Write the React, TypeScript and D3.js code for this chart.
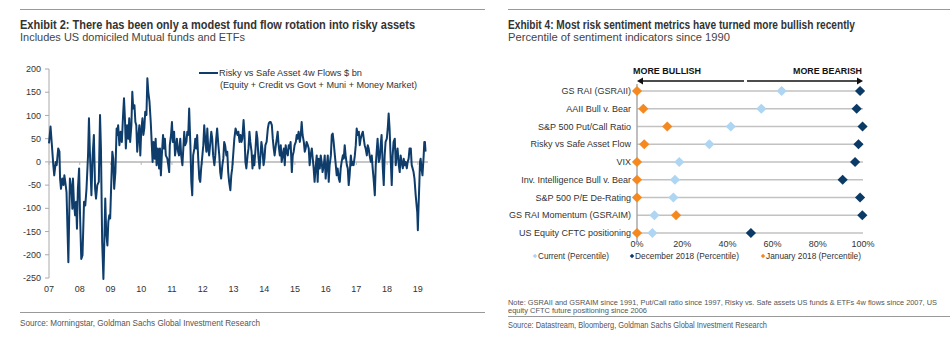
import React from "react";
import * as d3 from "d3";

// ---------- Exhibit 2 data: Risky vs Safe Asset 4w Flows ($ bn) ----------
const flowDates = [
  2007.00,2007.05,2007.09,2007.14,2007.17,2007.22,2007.25,2007.30,2007.34,2007.36,
  2007.39,2007.43,2007.47,2007.50,2007.53,2007.57,2007.63,2007.68,2007.73,2007.76,
  2007.78,2007.81,2007.85,2007.88,2007.91,2007.94,2007.98,2008.01,2008.05,2008.09,
  2008.14,2008.18,2008.22,2008.27,2008.30,2008.33,2008.38,2008.42,2008.46,2008.50,
  2008.53,2008.57,2008.62,2008.66,2008.69,2008.73,2008.77,2008.80,2008.83,2008.86,
  2008.90,2008.93,2008.96,2008.99,2009.02,2009.06,2009.09,2009.12,2009.16,2009.20,
  2009.22,2009.25,2009.29,2009.33,2009.37,2009.41,2009.44,2009.47,2009.50,2009.54,
  2009.58,2009.61,2009.64,2009.68,2009.71,2009.74,2009.78,2009.81,2009.84,2009.87,
  2009.91,2009.94,2009.97,2010.00,2010.04,2010.07,2010.10,2010.13,2010.17,2010.20,
  2010.23,2010.27,2010.31,2010.34,2010.37,2010.40,2010.44,2010.47,2010.50,2010.54,
  2010.58,2010.61,2010.64,2010.67,2010.71,2010.74,2010.77,2010.80,2010.85,2010.88,
  2010.91,2010.93,2010.97,2011.00,2011.03,2011.07,2011.10,2011.13,2011.16,2011.20,
  2011.23,2011.27,2011.30,2011.34,2011.37,2011.40,2011.43,2011.47,2011.50,2011.53,
  2011.56,2011.60,2011.63,2011.66,2011.69,2011.73,2011.76,2011.79,2011.82,2011.86,
  2011.89,2011.92,2011.95,2011.99,2012.02,2012.05,2012.08,2012.12,2012.15,2012.18,
  2012.21,2012.25,2012.28,2012.31,2012.34,2012.38,2012.41,2012.44,2012.47,2012.51,
  2012.54,2012.57,2012.60,2012.64,2012.67,2012.70,2012.73,2012.77,2012.80,2012.83,
  2012.86,2012.90,2012.93,2012.96,
  2013.00,2013.03,2013.07,2013.10,2013.13,2013.16,2013.20,2013.23,2013.26,2013.29,
  2013.33,2013.36,2013.39,2013.42,2013.46,2013.49,2013.52,2013.55,2013.59,2013.62,
  2013.65,2013.68,2013.72,2013.75,2013.78,2013.81,2013.85,2013.88,2013.91,2013.94,
  2013.98,2014.01,2014.04,2014.08,2014.12,2014.15,2014.18,2014.21,2014.25,2014.28,
  2014.31,2014.34,2014.38,2014.41,2014.44,2014.47,2014.51,2014.54,2014.57,2014.60,
  2014.64,2014.67,2014.70,2014.73,2014.77,2014.80,2014.83,2014.86,2014.90,2014.93,
  2014.96,2014.99,2015.03,2015.06,2015.09,2015.12,2015.16,2015.19,2015.22,2015.25,
  2015.29,2015.32,2015.35,2015.38,2015.42,2015.45,2015.48,2015.51,2015.55,2015.58,
  2015.61,2015.64,2015.68,2015.71,2015.74,2015.77,2015.81,2015.84,2015.87,2015.90,
  2015.94,2015.97,2016.00,2016.04,2016.07,2016.10,2016.13,2016.17,2016.20,2016.23,
  2016.26,2016.30,2016.33,2016.36,2016.39,2016.43,2016.46,2016.49,2016.52,2016.56,
  2016.59,2016.62,2016.65,2016.69,2016.72,2016.75,2016.78,2016.82,2016.85,2016.88,
  2016.91,2016.95,2016.98,2017.01,2017.04,2017.08,2017.11,2017.14,2017.17,2017.21,
  2017.24,2017.27,2017.30,2017.34,2017.37,2017.40,2017.43,2017.47,2017.50,2017.53,
  2017.56,2017.60,2017.63,2017.66,2017.69,2017.73,2017.76,2017.79,2017.82,2017.86,
  2017.89,2017.92,2017.95,2017.99,2018.02,2018.05,2018.08,2018.12,2018.15,2018.18,
  2018.21,2018.25,2018.28,2018.31,2018.34,2018.38,2018.41,2018.44,2018.47,2018.51,
  2018.54,2018.57,2018.60,2018.64,2018.67,2018.70,2018.73,2018.77,2018.80,2018.83,
  2018.86,2018.89,2018.93,2018.96,2018.98,2019.00,2019.02,2019.05,2019.07,2019.09,
  2019.12,2019.15,2019.19,2019.21,2019.23,2019.25,
];
const flowValues = [
  40,76,40,-7,-29,0,-7,29,22,-36,
  -58,-36,-50,-29,-43,-65,-216,-36,-58,-101,
  -36,-86,-115,-86,-144,-58,-14,-115,-209,-201,
  -86,-94,-58,14,94,22,-72,14,58,-58,
  -79,-50,-43,101,29,-173,-252,-173,-79,-151,
  -180,-129,-115,-122,-58,22,7,-58,-22,72,
  58,79,36,65,43,101,137,94,29,79,
  50,94,43,79,151,115,122,86,79,22,
  58,79,14,65,94,58,72,108,101,180,
  151,129,86,43,0,43,7,50,-7,29,
  -14,29,-29,14,58,29,50,14,7,-7,
  -22,36,58,86,43,65,14,29,50,22,
  14,50,14,-7,29,65,36,43,65,58,
  115,36,-43,-72,14,29,50,29,58,0,
  -36,-43,-14,14,36,79,50,22,72,29,
  14,43,65,50,14,-7,14,50,72,36,
  14,-22,-36,-7,7,43,36,14,22,-22,
  -43,-61,-29,-14,
  22,50,72,65,58,65,43,58,43,50,
  90,58,0,-14,14,29,65,43,22,-14,
  14,-7,29,65,50,14,-14,14,43,29,
  -7,7,36,43,72,83,86,86,79,50,
  29,14,36,50,65,36,14,36,0,14,
  29,-7,36,22,14,36,29,43,-22,14,
  22,36,43,58,50,65,43,58,86,58,
  43,22,29,43,36,29,-7,14,29,7,
  -14,-43,-7,14,-43,7,-14,14,0,-22,
  -7,14,-36,-7,14,-43,-7,14,58,61,
  43,14,-7,-29,-14,-36,-43,-14,0,14,
  7,36,14,-7,-14,-50,-29,14,-7,0,
  -7,14,36,72,58,65,36,50,58,65,
  50,36,29,14,36,29,14,0,14,-14,
  -36,-72,-7,22,50,0,7,36,58,-14,
  -50,14,43,50,72,104,72,0,-50,14,
  43,50,-7,14,29,-7,-22,14,0,-14,
  7,-7,0,-14,0,7,29,29,-7,-14,
  -22,-36,-72,-94,-108,-147,-101,-43,0,7,
  -14,-29,14,43,43,22,
];
const flowYTicks = [200, 150, 100, 50, 0, -50, -100, -150, -200, -250];
const flowYears = [2007, 2008, 2009, 2010, 2011, 2012, 2013, 2014, 2015, 2016, 2017, 2018, 2019];
const flowYearLabels = ["07", "08", "09", "10", "11", "12", "13", "14", "15", "16", "17", "18", "19"];

// ---------- Exhibit 4 data: sentiment percentiles ----------
const indicators = [
  "GS RAI (GSRAII)",
  "AAII Bull v. Bear",
  "S&P 500 Put/Call Ratio",
  "Risky vs Safe Asset Flow",
  "VIX",
  "Inv. Intelligence Bull v. Bear",
  "S&P 500 P/E De-Rating",
  "GS RAI Momentum (GSRAIM)",
  "US Equity CFTC positioning",
];
const currentPct = [0.64, 0.55, 0.415, 0.32, 0.187, 0.168, 0.161, 0.077, 0.068];
const dec2018Pct = [0.987, 0.972, 0.998, 0.98, 0.965, 0.91, 0.987, 0.997, 0.504];
const jan2018Pct = [0, 0.028, 0.134, 0.032, 0, 0, 0, 0.173, 0];
const pctTicks = [0, 0.2, 0.4, 0.6, 0.8, 1];

const NARROW = "'Liberation Sans Narrow','Arial Narrow','Liberation Sans',Arial,sans-serif";
const SANS = "'Liberation Sans',Arial,Helvetica,sans-serif";
const NAVY = "#0E3D6C";
const DARK = "#0B3A67";
const LIGHT = "#AED6F3";
const ORANGE = "#F5891F";

function diamond(size: number) {
  return d3.symbol().type(d3.symbolSquare).size(size)() as string;
}

export default function App() {
  // left chart scales
  const x = d3.scaleLinear().domain([2007, 2019.33]).range([49, 428]);
  const y = d3.scaleLinear().domain([-250, 200]).range([278, 69]);
  const line = d3
    .line<number>()
    .x((_, i) => x(flowDates[i]))
    .y((d) => y(d))
    .curve(d3.curveLinear);

  // right chart scales
  const px = d3.scaleLinear().domain([0, 1]).range([637, 863]);
  const py = d3.scalePoint<string>().domain(indicators).range([91, 233]);
  const dPath = diamond(52);
  const dSmall = diamond(10);

  return (
    <svg
      width={950}
      height={339}
      style={{ position: "absolute", left: 0, top: 0, background: "#fff" }}
    >
      {/* ===== Left panel ===== */}
      <line x1={20} x2={485} y1={9.5} y2={9.5} stroke="#999" strokeWidth={1} />
      <text x={20} y={29} fontFamily={NARROW} fontWeight="bold" fontSize={12} fill="#333"
        textLength={395} lengthAdjust="spacingAndGlyphs">
        Exhibit 2: There has been only a modest fund flow rotation into risky assets
      </text>
      <text x={20} y={41} fontFamily={NARROW} fontSize={11} fill="#444"
        textLength={225} lengthAdjust="spacingAndGlyphs">
        Includes US domiciled Mutual funds and ETFs
      </text>

      {/* y axis */}
      <line x1={49} x2={49} y1={y(200)} y2={y(-250)} stroke="#aaa" strokeWidth={1} />
      {flowYTicks.map((t) => (
        <g key={t}>
          <line x1={45} x2={49} y1={y(t)} y2={y(t)} stroke="#aaa" />
          <text x={41} y={y(t)} dy="0.35em" textAnchor="end" fontFamily={SANS} fontSize={9} fill="#333">
            {t}
          </text>
        </g>
      ))}
      {/* zero line */}
      <line x1={49} x2={428} y1={y(0)} y2={y(0)} stroke="#b5b5b5" strokeWidth={1.5} />
      {flowYears.map((yr, i) => (
        <g key={yr}>
          <line x1={x(yr)} x2={x(yr)} y1={y(0)} y2={y(0) + 3} stroke="#b5b5b5" />
          <text x={x(yr)} y={292} textAnchor="middle" fontFamily={SANS} fontSize={9} fill="#333">
            {flowYearLabels[i]}
          </text>
        </g>
      ))}
      <path d={line(flowValues) as string} fill="none" stroke={NAVY} strokeWidth={2} strokeLinejoin="round" />

      {/* legend */}
      <line x1={199} x2={218} y1={73} y2={73} stroke={NAVY} strokeWidth={2} />
      <text x={219} y={76} fontFamily={SANS} fontSize={9} fill="#333" textLength={143} lengthAdjust="spacingAndGlyphs">
        Risky vs Safe Asset 4w Flows $ bn
      </text>
      <text x={220} y={87.5} fontFamily={SANS} fontSize={9} fill="#333" textLength={197} lengthAdjust="spacingAndGlyphs">
        (Equity + Credit vs Govt + Muni + Money Market)
      </text>

      <line x1={20} x2={485} y1={312.5} y2={312.5} stroke="#999" strokeWidth={1} />
      <text x={20} y={326} fontFamily={NARROW} fontSize={9} fill="#555" textLength={240} lengthAdjust="spacingAndGlyphs">
        Source: Morningstar, Goldman Sachs Global Investment Research
      </text>

      {/* ===== Right panel ===== */}
      <line x1={508} x2={950} y1={9.5} y2={9.5} stroke="#999" strokeWidth={1} />
      <text x={508} y={29} fontFamily={NARROW} fontWeight="bold" fontSize={12} fill="#333"
        textLength={347} lengthAdjust="spacingAndGlyphs">
        Exhibit 4: Most risk sentiment metrics have turned more bullish recently
      </text>
      <text x={508} y={41} fontFamily={NARROW} fontSize={11} fill="#444"
        textLength={222} lengthAdjust="spacingAndGlyphs">
        Percentile of sentiment indicators since 1990
      </text>

      {/* direction arrows */}
      <text x={633} y={74} fontFamily={SANS} fontWeight="bold" fontSize={9} fill="#111"
        textLength={68} lengthAdjust="spacingAndGlyphs">
        MORE BULLISH
      </text>
      <text x={862} y={74} textAnchor="end" fontFamily={SANS} fontWeight="bold" fontSize={9} fill="#111"
        textLength={69} lengthAdjust="spacingAndGlyphs">
        MORE BEARISH
      </text>
      <line x1={642} x2={744} y1={81} y2={81} stroke="#111" strokeWidth={1.5} />
      <path d="M637,81 L643,77.5 L643,84.5 Z" fill="#111" />
      <line x1={747} x2={858} y1={81} y2={81} stroke="#111" strokeWidth={1.5} />
      <path d="M863,81 L857,77.5 L857,84.5 Z" fill="#111" />

      {/* grid rows */}
      {indicators.map((name) => (
        <g key={name}>
          <line x1={px(0)} x2={px(1)} y1={py(name)} y2={py(name)} stroke="#c2c2c2" strokeWidth={1.5} />
          <text x={631} y={py(name)} dy="0.35em" textAnchor="end" fontFamily={SANS} fontSize={9} fill="#333">
            {name}
          </text>
        </g>
      ))}
      <line x1={px(0)} x2={px(0)} y1={84} y2={241} stroke="#aaa" strokeWidth={1.5} />
      {pctTicks.map((t) => (
        <text key={t} x={px(t)} y={247} textAnchor="middle" fontFamily={SANS} fontSize={9} fill="#333">
          {`${Math.round(t * 100)}%`}
        </text>
      ))}

      {/* markers */}
      {indicators.map((name, i) => (
        <path key={"c" + i} d={dPath} transform={`translate(${px(currentPct[i])},${py(name)}) rotate(45)`} fill={LIGHT} />
      ))}
      {indicators.map((name, i) => (
        <path key={"d" + i} d={dPath} transform={`translate(${px(dec2018Pct[i])},${py(name)}) rotate(45)`} fill={DARK} />
      ))}
      {indicators.map((name, i) => (
        <path key={"j" + i} d={dPath} transform={`translate(${px(jan2018Pct[i])},${py(name)}) rotate(45)`} fill={ORANGE} />
      ))}

      {/* legend */}
      <path d={dSmall} transform="translate(535,256) rotate(45)" fill={LIGHT} />
      <text x={538} y={259} fontFamily={SANS} fontSize={9} fill="#333" textLength={71} lengthAdjust="spacingAndGlyphs">
        Current (Percentile)
      </text>
      <path d={dSmall} transform="translate(632,256) rotate(45)" fill={DARK} />
      <text x={635} y={259} fontFamily={SANS} fontSize={9} fill="#333" textLength={104} lengthAdjust="spacingAndGlyphs">
        December 2018 (Percentile)
      </text>
      <path d={dSmall} transform="translate(763,256) rotate(45)" fill={ORANGE} />
      <text x={766} y={259} fontFamily={SANS} fontSize={9} fill="#333" textLength={95} lengthAdjust="spacingAndGlyphs">
        January 2018 (Percentile)
      </text>

      {/* note + source */}
      <text x={508} y={304.5} fontFamily={NARROW} fontSize={7.5} fill="#555" textLength={429} lengthAdjust="spacingAndGlyphs">
        Note: GSRAII and GSRAIM since 1991, Put/Call ratio since 1997, Risky vs. Safe assets US funds &amp; ETFs 4w flows since 2007, US
      </text>
      <text x={508} y={312.5} fontFamily={NARROW} fontSize={7.5} fill="#555" textLength={139} lengthAdjust="spacingAndGlyphs">
        equity CFTC future positioning since 2006
      </text>
      <line x1={508} x2={950} y1={316.5} y2={316.5} stroke="#999" strokeWidth={1} />
      <text x={508} y={327.5} fontFamily={NARROW} fontSize={9} fill="#555" textLength={259} lengthAdjust="spacingAndGlyphs">
        Source: Datastream, Bloomberg, Goldman Sachs Global Investment Research
      </text>
    </svg>
  );
}
